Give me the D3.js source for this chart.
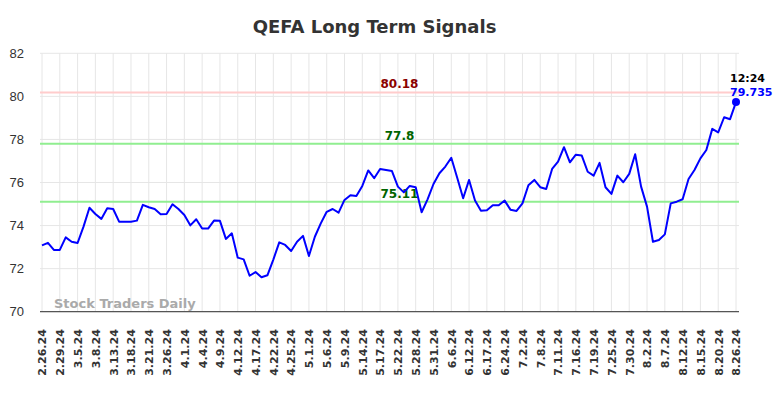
<!DOCTYPE html>
<html>
<head>
<meta charset="utf-8">
<script src="https://cdn.jsdelivr.net/npm/d3@7/dist/d3.min.js"></script>
<style>
  html, body { margin: 0; padding: 0; background: #fff; }
  svg { display: block; }
</style>
</head>
<body>
<svg id="chart" width="784" height="398"></svg>
<script>
// ---- data ----
const title = "QEFA Long Term Signals";
const tickLabels = ["2.26.24","2.29.24","3.5.24","3.8.24","3.13.24","3.18.24","3.21.24","3.26.24","4.1.24","4.4.24","4.9.24","4.12.24","4.17.24","4.22.24","4.25.24","5.1.24","5.6.24","5.9.24","5.14.24","5.17.24","5.22.24","5.28.24","5.31.24","6.6.24","6.12.24","6.17.24","6.24.24","7.2.24","7.8.24","7.11.24","7.16.24","7.19.24","7.25.24","7.30.24","8.2.24","8.7.24","8.12.24","8.15.24","8.20.24","8.26.24"];
const tickEvery = 3;
const prices = [
  73.08,73.20,72.87,72.87,73.45,73.25,73.19,73.95,74.83,74.54,
  74.31,74.80,74.77,74.18,74.18,74.18,74.23,74.96,74.85,74.77,
  74.53,74.54,74.99,74.77,74.49,74.01,74.29,73.86,73.86,74.23,
  74.22,73.38,73.64,72.51,72.43,71.67,71.84,71.60,71.69,72.42,
  73.22,73.10,72.82,73.25,73.52,72.59,73.48,74.10,74.64,74.77,
  74.60,75.19,75.41,75.37,75.84,76.56,76.20,76.63,76.58,76.53,
  75.81,75.54,75.84,75.78,74.62,75.22,75.93,76.43,76.74,77.15,
  76.22,75.27,76.12,75.16,74.69,74.71,74.94,74.94,75.16,74.73,
  74.68,75.03,75.87,76.12,75.78,75.70,76.63,76.97,77.64,76.94,
  77.29,77.25,76.50,76.32,76.91,75.78,75.47,76.32,76.01,76.40,
  77.31,75.81,74.88,73.25,73.33,73.59,75.03,75.11,75.22,76.16,
  76.58,77.12,77.51,78.49,78.33,79.03,78.94,79.735
];
const yTicks = [70,72,74,76,78,80,82];
const signals = [
  {value: 80.18, label: "80.18", line: "#ffcccc", text: "#8b0000"},
  {value: 77.8,  label: "77.8",  line: "#90ee90", text: "#006400"},
  {value: 75.11, label: "75.11", line: "#90ee90", text: "#006400"}
];
const lastTime = "12:24";
const lastLabel = "79.735";
const watermark = "Stock Traders Daily";

// ---- layout ----
const svg = d3.select("#chart");
const plotL = 40, plotR = 739, plotT = 53.3, plotB = 311.7;

const x = d3.scaleLinear().domain([0, prices.length - 1]).range([42, 736]);
const y = d3.scaleLinear().domain([70, 82]).range([plotB, plotT]);

// gridlines
const grid = svg.append("g");
grid.selectAll("line.h").data(yTicks).join("line")
  .attr("x1", plotL).attr("x2", plotR)
  .attr("y1", d => y(d)).attr("y2", d => y(d))
  .attr("stroke", "#e6e6e6").attr("stroke-width", 1);
const tickIdx = tickLabels.map((t, i) => i * tickEvery);
grid.selectAll("line.v").data(tickIdx).join("line")
  .attr("x1", d => x(d)).attr("x2", d => x(d))
  .attr("y1", plotT).attr("y2", plotB)
  .attr("stroke", "#e6e6e6").attr("stroke-width", 1);

// y axis labels
const yAxis = d3.axisLeft(y).tickValues(yTicks).tickSize(0).tickPadding(0).tickFormat(d3.format("d"));
const yg = svg.append("g").attr("transform", `translate(24,0)`).call(yAxis);
yg.select(".domain").remove();
yg.selectAll("text").attr("font-family", "'Liberation Sans', Arial, sans-serif")
  .attr("font-size", 13).attr("fill", "#333");

// x axis
const xAxis = d3.axisBottom(x).tickValues(tickIdx).tickSize(0)
  .tickFormat((d, i) => tickLabels[i]);
const xg = svg.append("g").attr("transform", `translate(0,${plotB})`).call(xAxis);
xg.select(".domain").remove();
xg.selectAll("text")
  .attr("font-family", "'DejaVu Sans', sans-serif").attr("font-size", 11)
  .attr("font-weight", "bold").attr("fill", "#333")
  .attr("text-anchor", "end")
  .attr("transform", null)
  .attr("x", 0).attr("y", 0).attr("dy", "0.35em")
  .attr("transform", "translate(0,17.5) rotate(-90)");

svg.append("line").attr("x1", plotL).attr("x2", plotR)
  .attr("y1", plotB).attr("y2", plotB)
  .attr("stroke", "#555").attr("stroke-width", 1.2);

// signal lines
const sg = svg.append("g");
sg.selectAll("line").data(signals).join("line")
  .attr("x1", plotL).attr("x2", plotR)
  .attr("y1", d => y(d.value)).attr("y2", d => y(d.value))
  .attr("stroke", d => d.line).attr("stroke-width", 2);
sg.selectAll("text").data(signals).join("text")
  .attr("x", 399.5).attr("y", d => y(d.value) - 4)
  .attr("text-anchor", "middle")
  .attr("font-family", "'DejaVu Sans', sans-serif").attr("font-size", 12)
  .attr("font-weight", "bold").attr("fill", d => d.text)
  .text(d => d.label);

// watermark
svg.append("text").attr("x", 54).attr("y", 308)
  .attr("font-family", "'DejaVu Sans', sans-serif").attr("font-size", 13)
  .attr("font-weight", "bold").attr("fill", "#aaa")
  .text(watermark);

// price line
const line = d3.line().x((d, i) => x(i)).y(d => y(d));
svg.append("path").datum(prices)
  .attr("d", line).attr("fill", "none")
  .attr("stroke", "#0000ff").attr("stroke-width", 2)
  .attr("stroke-linejoin", "round");

const li = prices.length - 1;
svg.append("circle").attr("cx", x(li)).attr("cy", y(prices[li])).attr("r", 4)
  .attr("fill", "#0000ff");
svg.append("text").attr("x", x(li) - 6).attr("y", 81.5)
  .attr("font-family", "'DejaVu Sans', sans-serif").attr("font-size", 11)
  .attr("font-weight", "bold").attr("fill", "#000").text(lastTime);
svg.append("text").attr("x", x(li) - 6).attr("y", 96)
  .attr("font-family", "'DejaVu Sans', sans-serif").attr("font-size", 11)
  .attr("font-weight", "bold").attr("fill", "#0000ff").text(lastLabel);

// title
svg.append("text").attr("x", 374.5).attr("y", 32.5)
  .attr("text-anchor", "middle")
  .attr("font-family", "'DejaVu Sans', sans-serif").attr("font-size", 18)
  .attr("font-weight", "bold").attr("fill", "#333")
  .text(title);
</script>
</body>
</html>
